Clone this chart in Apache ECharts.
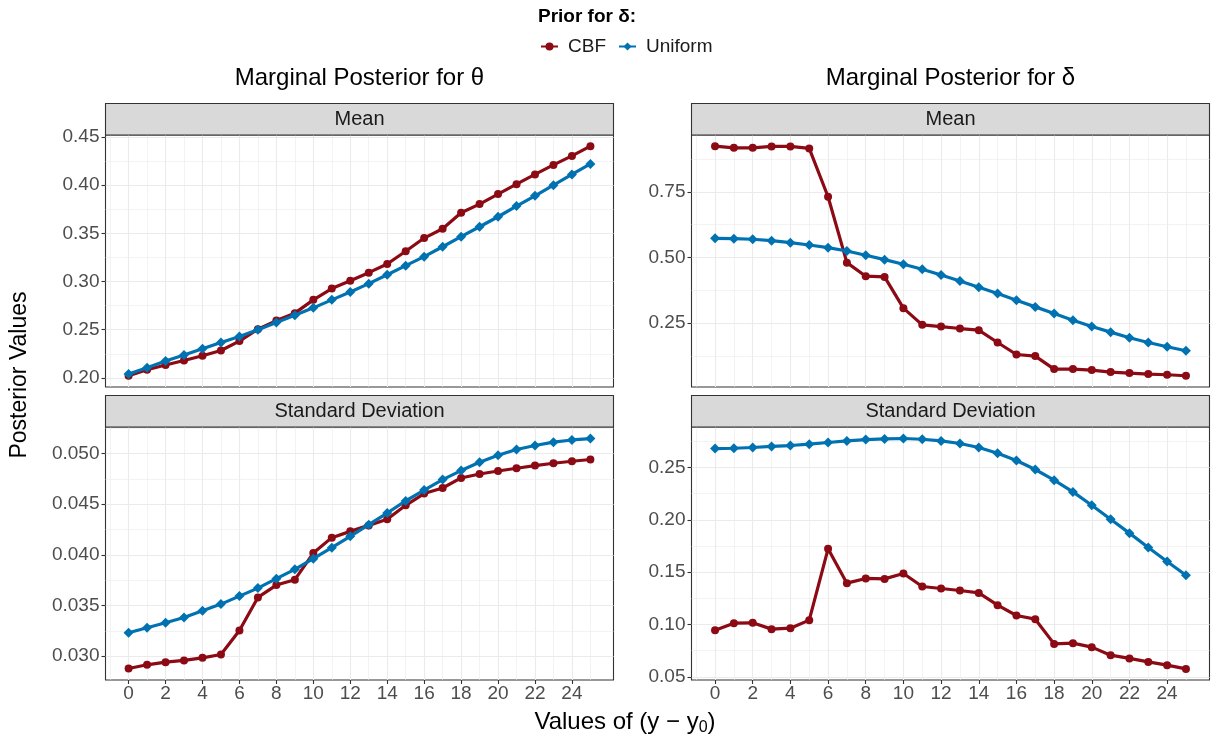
<!DOCTYPE html>
<html>
<head>
<meta charset="utf-8">
<script src="https://cdn.jsdelivr.net/npm/echarts@6/dist/echarts.min.js"></script>
<style>
  html, body { margin: 0; padding: 0; background: #fff; }
  #chart { width: 1213px; height: 740px; }
</style>
</head>
<body>
<div id="chart"></div>
<script>
// x values: y - y0
const xValues = [0,1,2,3,4,5,6,7,8,9,10,11,12,13,14,15,16,17,18,19,20,21,22,23,24,25];
const xTicks = [0,2,4,6,8,10,12,14,16,18,20,22,24];
const xMinor = [-1,1,3,5,7,9,11,13,15,17,19,21,23,25];

// Marginal posterior for theta - mean
const thetaMeanCBF = [0.2023,0.2085,0.2134,0.2181,0.2230,0.2285,0.2382,0.2506,0.2595,0.2672,0.2810,0.2927,0.3009,0.3092,0.3182,0.3314,0.3451,0.3548,0.3713,0.3803,0.3907,0.4010,0.4111,0.4210,0.4303,0.4404];
const thetaMeanUnif = [0.2040,0.2106,0.2175,0.2237,0.2302,0.2368,0.2430,0.2499,0.2575,0.2651,0.2727,0.2810,0.2892,0.2978,0.3071,0.3165,0.3258,0.3361,0.3465,0.3568,0.3672,0.3783,0.3889,0.4000,0.4111,0.4220];
// Marginal posterior for delta - mean
const deltaMeanCBF = [0.9236,0.9172,0.9172,0.9225,0.9225,0.9149,0.7310,0.4802,0.4286,0.4259,0.3070,0.2435,0.2371,0.2295,0.2234,0.1763,0.1307,0.1246,0.0752,0.0752,0.0714,0.0638,0.0600,0.0562,0.0536,0.0498];
const deltaMeanUnif = [0.5729,0.5714,0.5692,0.5638,0.5562,0.5475,0.5372,0.5247,0.5084,0.4916,0.4742,0.4552,0.4335,0.4107,0.3868,0.3625,0.3374,0.3119,0.2865,0.2614,0.2371,0.2158,0.1942,0.1763,0.1600,0.1448];
// theta - standard deviation
const thetaSdCBF = [0.02878,0.02915,0.02941,0.02958,0.02984,0.03017,0.03254,0.03580,0.03702,0.03755,0.04018,0.04170,0.04232,0.04291,0.04351,0.04489,0.04605,0.04660,0.04759,0.04798,0.04828,0.04855,0.04881,0.04904,0.04924,0.04941];
const thetaSdUnif = [0.03231,0.03281,0.03330,0.03382,0.03449,0.03514,0.03593,0.03672,0.03765,0.03857,0.03962,0.04071,0.04183,0.04298,0.04413,0.04532,0.04640,0.04743,0.04832,0.04914,0.04983,0.05040,0.05079,0.05112,0.05134,0.05148];
// delta - standard deviation
const deltaSdCBF = [0.0946,0.1013,0.1016,0.0956,0.0965,0.1042,0.1723,0.1395,0.1440,0.1436,0.1488,0.1363,0.1344,0.1325,0.1302,0.1185,0.1086,0.1051,0.0815,0.0822,0.0784,0.0707,0.0676,0.0643,0.0612,0.0576];
const deltaSdUnif = [0.2681,0.2684,0.2691,0.2701,0.2710,0.2723,0.2739,0.2754,0.2767,0.2773,0.2777,0.2770,0.2754,0.2729,0.2691,0.2637,0.2567,0.2481,0.2379,0.2267,0.2140,0.2006,0.1873,0.1736,0.1602,0.1471];

// y ticks per panel
const thetaMeanTicks = [0.20,0.25,0.30,0.35,0.40,0.45];
const thetaMeanMinor = [0.225,0.275,0.325,0.375,0.425];
const deltaMeanTicks = [0.25,0.50,0.75];
const deltaMeanMinor = [0.125,0.375,0.625,0.875];
const thetaSdTicks = [0.030,0.035,0.040,0.045,0.050];
const thetaSdMinor = [0.0325,0.0375,0.0425,0.0475,0.0525];
const deltaSdTicks = [0.05,0.10,0.15,0.20,0.25];
const deltaSdMinor = [0.075,0.125,0.175,0.225,0.275];

const FONT = 'Liberation Sans, Arial, Helvetica, sans-serif';
const RED = '#8b0a14';
const BLUE = '#0072b2';

// panel boxes: [left, top, width, height]
const panels = [
    { box: [105.5, 135, 508, 252], strip: 'Mean', y: [0.1906, 0.4520], ticks: thetaMeanTicks, minor: thetaMeanMinor, dec: 2, bottom: false, cbf: thetaMeanCBF, unif: thetaMeanUnif },
    { box: [691.5, 135, 518, 252], strip: 'Mean', y: [0.007, 0.966], ticks: deltaMeanTicks, minor: deltaMeanMinor, dec: 2, bottom: false, cbf: deltaMeanCBF, unif: deltaMeanUnif },
    { box: [105.5, 427, 508, 253], strip: 'Standard Deviation', y: [0.02765, 0.05262], ticks: thetaSdTicks, minor: thetaSdMinor, dec: 3, bottom: true, cbf: thetaSdCBF, unif: thetaSdUnif },
    { box: [691.5, 427, 518, 253], strip: 'Standard Deviation', y: [0.047, 0.2887], ticks: deltaSdTicks, minor: deltaSdMinor, dec: 2, bottom: true, cbf: deltaSdCBF, unif: deltaSdUnif }
];

const grids = [], xAxes = [], yAxes = [], series = [], graphics = [];

panels.forEach((p, i) => {
    const [l, t, w, h] = p.box;
    grids.push({ left: l, top: t, width: w, height: h, show: true, borderColor: '#333', borderWidth: 1.1, outerBoundsMode: 'none' });
    // major x
    xAxes.push({
        type: 'value', gridIndex: i, min: -1.25, max: 26.25, position: 'bottom',
        axisLine: { show: false, onZero: false },
        axisTick: { show: p.bottom, length: 4, lineStyle: { color: '#333', width: 1.1 }, customValues: xTicks },
        axisLabel: { show: p.bottom, customValues: xTicks, color: '#4d4d4d', fontSize: 19, margin: 4, fontFamily: FONT },
        splitLine: { show: true, lineStyle: { color: '#ebebeb', width: 1.1 } }
    });
    // minor x (grid lines only)
    xAxes.push({
        type: 'value', gridIndex: i, min: -1.25, max: 26.25, position: 'top',
        axisLine: { show: false, onZero: false },
        axisTick: { show: false, customValues: xMinor },
        axisLabel: { show: false, customValues: xMinor },
        splitLine: { show: true, lineStyle: { color: '#ebebeb', width: 0.6 } }
    });
    yAxes.push({
        type: 'value', gridIndex: i, min: p.y[0], max: p.y[1], position: 'left',
        axisLine: { show: false, onZero: false },
        axisTick: { show: true, length: 4, lineStyle: { color: '#333', width: 1.1 }, customValues: p.ticks },
        axisLabel: { customValues: p.ticks, color: '#4d4d4d', fontSize: 19, margin: 6, fontFamily: FONT,
            formatter: v => v.toFixed(p.dec) },
        splitLine: { show: true, lineStyle: { color: '#ebebeb', width: 1.1 } }
    });
    yAxes.push({
        type: 'value', gridIndex: i, min: p.y[0], max: p.y[1], position: 'right',
        axisLine: { show: false, onZero: false },
        axisTick: { show: false, customValues: p.minor },
        axisLabel: { show: false, customValues: p.minor },
        splitLine: { show: true, lineStyle: { color: '#ebebeb', width: 0.6 } }
    });
    series.push({
        name: 'CBF', type: 'line', xAxisIndex: 2 * i, yAxisIndex: 2 * i,
        data: xValues.map((x, k) => [x, p.cbf[k]]),
        symbol: 'circle', symbolSize: 8,
        lineStyle: { color: RED, width: 3.2 }, itemStyle: { color: RED },
        animation: false, z: 3
    });
    series.push({
        name: 'Uniform', type: 'line', xAxisIndex: 2 * i, yAxisIndex: 2 * i,
        data: xValues.map((x, k) => [x, p.unif[k]]),
        symbol: 'diamond', symbolSize: 10,
        lineStyle: { color: BLUE, width: 3.2 }, itemStyle: { color: BLUE },
        animation: false, z: 4
    });
    // facet strip
    graphics.push({
        type: 'rect', shape: { x: l, y: t - 31.5, width: w, height: 31.5 },
        style: { fill: '#d9d9d9', stroke: '#333', lineWidth: 1.1 }, z: 10
    });
    graphics.push({
        type: 'text', x: l + w / 2, y: t - 15.5, z: 11,
        style: { text: p.strip, fontSize: 20, fontFamily: FONT, fill: '#1a1a1a', align: 'center', verticalAlign: 'middle' }
    });
});

// column titles
graphics.push({ type: 'text', x: 359.5, y: 78, style: { text: 'Marginal Posterior for θ', fontSize: 24, fontFamily: FONT, fill: '#000', align: 'center', verticalAlign: 'middle' } });
graphics.push({ type: 'text', x: 950.5, y: 78, style: { text: 'Marginal Posterior for δ', fontSize: 24, fontFamily: FONT, fill: '#000', align: 'center', verticalAlign: 'middle' } });
// axis titles
graphics.push({ type: 'text', x: 20, y: 375, rotation: Math.PI / 2, style: { text: 'Posterior Values', fontSize: 23, fontFamily: FONT, fill: '#000', align: 'center', verticalAlign: 'middle' } });
graphics.push({
    type: 'text', x: 625, y: 722,
    style: {
        text: '{a|Values of (y − y}{s|0}{a|)}', align: 'center', verticalAlign: 'middle',
        rich: {
            a: { fontSize: 24, fontFamily: FONT, fill: '#000', color: '#000' },
            s: { fontSize: 16, fontFamily: FONT, fill: '#000', color: '#000', padding: [11, 0, 0, 0] }
        }
    }
});
// legend title
graphics.push({ type: 'text', x: 587, y: 17, style: { text: 'Prior for δ:', fontSize: 19, fontWeight: 'bold', fontFamily: FONT, fill: '#000', align: 'center', verticalAlign: 'middle' } });

const chart = echarts.init(document.getElementById('chart'));
chart.setOption({
    animation: false,
    backgroundColor: '#fff',
    grid: grids,
    xAxis: xAxes,
    yAxis: yAxes,
    legend: {
        data: ['CBF', 'Uniform'], left: 535, top: 32, itemWidth: 17, itemHeight: 10, itemGap: 12,
        textStyle: { fontSize: 19, color: '#1a1a1a', fontFamily: FONT, padding: [0, 0, 0, 5] }
    },
    series: series,
    graphic: graphics
});
</script>
</body>
</html>
